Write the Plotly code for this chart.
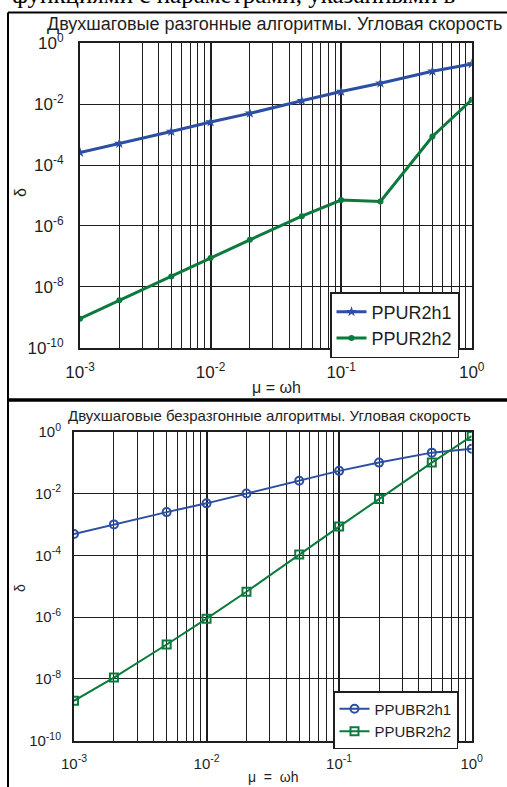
import plotly.graph_objects as go

# ---- data ----
mu = [0.001, 0.002, 0.005, 0.01, 0.02, 0.05, 0.1, 0.2, 0.5, 1.0]
ppur2h1 = [2.6e-4, 5.1e-4, 1.26e-3, 2.6e-3, 5.0e-3, 1.3e-2, 2.6e-2, 4.9e-2, 0.12, 0.21]
ppur2h2 = [9e-10, 3.6e-9, 2.2e-8, 8.9e-8, 3.5e-7, 2.1e-6, 7.1e-6, 6.4e-6, 8.7e-4, 1.4e-2]
ppubr2h1 = [4.9e-4, 1.0e-3, 2.5e-3, 4.8e-3, 1.0e-2, 2.6e-2, 5.4e-2, 0.10, 0.21, 0.28]
ppubr2h2 = [1.96e-9, 1.1e-8, 1.3e-7, 8.9e-7, 6.6e-6, 1.07e-4, 8.5e-4, 6.6e-3, 0.10, 0.72]

x_major = [1e-3, 1e-2, 1e-1, 1.0]
x_labels = ["10<sup>-3</sup>", "10<sup>-2</sup>", "10<sup>-1</sup>", "10<sup>0</sup>"]
y_major = [1.0, 1e-2, 1e-4, 1e-6, 1e-8, 1e-10]
y_labels = ["10<sup>0</sup>", "10<sup>-2</sup>", "10<sup>-4</sup>", "10<sup>-6</sup>",
            "10<sup>-8</sup>", "10<sup>-10</sup>"]
x_minor = [k * 10.0 ** e for e in (-3, -2, -1) for k in range(2, 10)]

top_title = "Двухшаговые разгонные алгоритмы. Угловая скорость"
bot_title = "Двухшаговые безразгонные алгоритмы. Угловая скорость"
page_text = "функциями с параметрами, указанными в"

W, H = 507, 787
BLUE = "#2c4fa3"
GREEN = "#0b7a3d"
INK = "#1e1e1e"
FONT = "Liberation Sans, Arial, sans-serif"


def px(x):
    return x / W


def py(y):
    return 1 - y / H


fig = go.Figure()

fig.add_trace(go.Scatter(x=mu, y=ppur2h1, name="PPUR2h1", mode="lines+markers",
                         line=dict(color=BLUE, width=3),
                         marker=dict(symbol="star", size=8, color=BLUE),
                         xaxis="x", yaxis="y", legend="legend"))
fig.add_trace(go.Scatter(x=mu, y=ppur2h2, name="PPUR2h2", mode="lines+markers",
                         line=dict(color=GREEN, width=3),
                         marker=dict(symbol="circle", size=6, color=GREEN),
                         xaxis="x", yaxis="y", legend="legend"))
fig.add_trace(go.Scatter(x=mu, y=ppubr2h1, name="PPUBR2h1", mode="lines+markers",
                         line=dict(color=BLUE, width=2),
                         marker=dict(symbol="circle-open", size=8, color=BLUE,
                                     line=dict(width=2, color=BLUE)),
                         xaxis="x2", yaxis="y2", legend="legend2"))
fig.add_trace(go.Scatter(x=mu, y=ppubr2h2, name="PPUBR2h2", mode="lines+markers",
                         line=dict(color=GREEN, width=2),
                         marker=dict(symbol="square-open", size=8, color=GREEN,
                                     line=dict(width=2, color=GREEN)),
                         xaxis="x2", yaxis="y2", legend="legend2"))


def xaxis(domain, anchor, fsize, standoff):
    return dict(type="log", range=[-3, 0], domain=domain, anchor=anchor,
                tickmode="array", tickvals=x_major, ticktext=x_labels,
                tickfont=dict(family=FONT, size=fsize, color=INK),
                ticks="", ticklabelstandoff=standoff,
                showgrid=True, gridcolor=INK, gridwidth=1.8,
                minor=dict(tickmode="array", tickvals=x_minor, showgrid=True,
                           gridcolor=INK, gridwidth=1.2, ticks=""),
                showline=True, mirror=True, linecolor=INK, linewidth=2,
                zeroline=False, automargin=False)


def yaxis(domain, anchor, fsize, standoff):
    return dict(type="log", range=[-10, 0], domain=domain, anchor=anchor,
                tickmode="array", tickvals=y_major, ticktext=y_labels,
                tickfont=dict(family=FONT, size=fsize, color=INK),
                ticks="", ticklabelstandoff=standoff,
                showgrid=True, gridcolor=INK, gridwidth=1.4,
                showline=True, mirror=True, linecolor=INK, linewidth=2,
                zeroline=False, automargin=False)


fig.update_layout(
    width=W, height=H, margin=dict(l=0, r=0, t=0, b=0, pad=0, autoexpand=False),
    paper_bgcolor="white", plot_bgcolor="white",
    xaxis=xaxis([px(80), px(471.7)], "y", 17, 8),
    yaxis=yaxis([py(347.7), py(43.3)], "x", 17, 11),
    xaxis2=xaxis([px(74), px(471.7)], "y2", 15, 8),
    yaxis2=yaxis([py(740.7), py(431.7)], "x2", 15, 8),
    legend=dict(x=px(330), y=py(292), xanchor="left", yanchor="top",
                bgcolor="white", bordercolor=INK, borderwidth=1.5,
                font=dict(family=FONT, size=18, color=INK), tracegroupgap=0),
    legend2=dict(x=px(333), y=py(691), xanchor="left", yanchor="top",
                 bgcolor="white", bordercolor=INK, borderwidth=1.5,
                 font=dict(family=FONT, size=15, color=INK), tracegroupgap=0),
    showlegend=True,
)

ann = []
ann.append(dict(text=page_text, x=px(10), y=py(10), xanchor="left", yanchor="bottom",
                font=dict(family="Liberation Serif, Times New Roman, serif", size=25, color="black")))
ann.append(dict(text=top_title, x=px(45), y=py(24), xanchor="left", yanchor="middle",
                font=dict(family=FONT, size=18, color=INK)))
ann.append(dict(text=bot_title, x=px(269), y=py(415), xanchor="center", yanchor="middle",
                font=dict(family=FONT, size=15, color=INK)))
ann.append(dict(text="μ = ωh", x=px(276), y=py(387), xanchor="center", yanchor="middle",
                font=dict(family=FONT, size=16, color=INK)))
ann.append(dict(text="μ  =  ωh", x=px(273), y=py(777), xanchor="center", yanchor="middle",
                font=dict(family=FONT, size=14, color=INK)))
ann.append(dict(text="δ", x=px(20), y=py(193), xanchor="center", yanchor="middle",
                textangle=-90, font=dict(family=FONT, size=16, color=INK)))
ann.append(dict(text="δ", x=px(20), y=py(588), xanchor="center", yanchor="middle",
                textangle=-90, font=dict(family=FONT, size=14, color=INK)))
for a in ann:
    a.update(xref="paper", yref="paper", showarrow=False)
fig.update_layout(annotations=ann)

# page frame lines
fig.update_layout(shapes=[
    dict(type="line", xref="paper", yref="paper", x0=px(8), x1=px(8), y0=py(12.5), y1=0,
         line=dict(color="black", width=2)),
    dict(type="line", xref="paper", yref="paper", x0=px(8), x1=1, y0=py(12.5), y1=py(12.5),
         line=dict(color="black", width=2)),
    dict(type="line", xref="paper", yref="paper", x0=px(8), x1=1, y0=py(400), y1=py(400),
         line=dict(color="black", width=3.5)),
])

fig.write_html("out.html", config={"displayModeBar": False},
               post_script="document.body.style.margin='0';document.body.style.overflow='hidden';")
